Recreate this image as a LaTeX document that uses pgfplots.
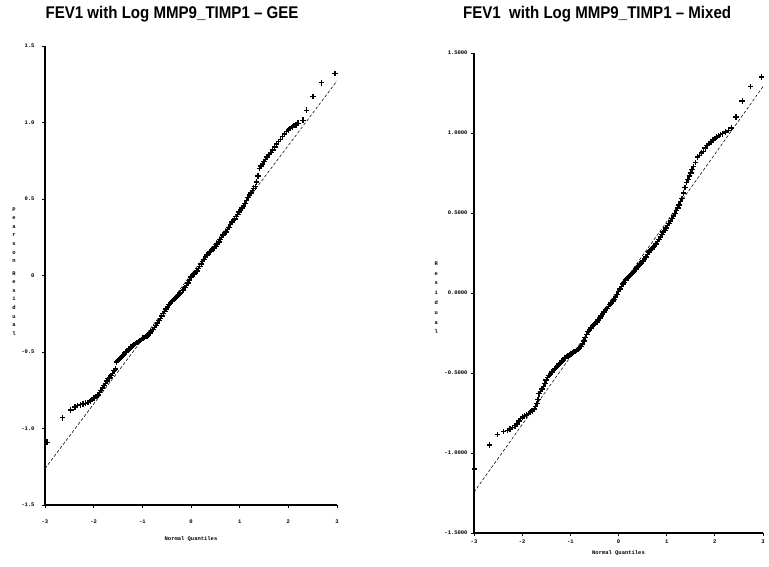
\documentclass[border=0pt]{standalone}
\usepackage{pgfplots}
\pgfplotsset{compat=1.18}
\usepackage{pgfplotstable}
\usepackage{fontspec}
\setmainfont{Liberation Sans}
\setmonofont{Liberation Mono}
\newcommand{\titlefont}{\fontsize{17}{20}\selectfont\bfseries\addfontfeature{FakeStretch=0.89}}
\newcommand{\tickfont}{\fontsize{5.5}{6.5}\selectfont\ttfamily\bfseries}
\newcommand{\stackfont}{\fontsize{5.5}{8.6}\selectfont\ttfamily\bfseries}

\pgfplotstableread{
q r
-2.96 -1.09
-2.64 -0.93
-2.47 -0.88
-2.38 -0.86
-2.33 -0.85
-2.27 -0.845
-2.22 -0.84
-2.17 -0.835
-2.12 -0.83
-2.07 -0.82
-2.03 -0.81
-1.99 -0.80
-1.95 -0.79
-1.91 -0.78
-1.88 -0.765
-1.85 -0.75
-1.82 -0.735
-1.79 -0.72
-1.76 -0.705
-1.73 -0.69
-1.70 -0.675
-1.67 -0.665
-1.64 -0.655
-1.61 -0.64
-1.58 -0.62
-1.55 -0.61
-1.53 -0.565
-1.50 -0.555
-1.47 -0.545
-1.44 -0.535
-1.41 -0.527
-1.38 -0.515
-1.35 -0.505
-1.32 -0.495
-1.29 -0.487
-1.26 -0.476
-1.23 -0.468
-1.20 -0.46
-1.17 -0.452
-1.14 -0.445
-1.11 -0.438
-1.08 -0.432
-1.05 -0.425
-1.02 -0.418
-0.99 -0.41
-0.96 -0.405
-0.93 -0.40
-0.90 -0.395
-0.87 -0.388
-0.84 -0.377
-0.81 -0.365
-0.78 -0.352
-0.75 -0.34
-0.72 -0.325
-0.69 -0.31
-0.66 -0.295
-0.63 -0.28
-0.60 -0.265
-0.57 -0.25
-0.54 -0.235
-0.51 -0.218
-0.48 -0.205
-0.45 -0.19
-0.42 -0.18
-0.39 -0.17
-0.36 -0.158
-0.33 -0.15
-0.30 -0.14
-0.27 -0.13
-0.24 -0.12
-0.21 -0.11
-0.18 -0.10
-0.15 -0.09
-0.12 -0.08
-0.09 -0.065
-0.06 -0.05
-0.03 -0.03
0.00 -0.01
0.03 0.00
0.06 0.01
0.09 0.02
0.12 0.03
0.15 0.045
0.18 0.06
0.21 0.075
0.24 0.09
0.27 0.105
0.30 0.12
0.33 0.135
0.36 0.145
0.39 0.155
0.42 0.165
0.45 0.175
0.48 0.18
0.51 0.19
0.54 0.205
0.57 0.22
0.60 0.235
0.63 0.25
0.66 0.265
0.69 0.275
0.72 0.285
0.75 0.30
0.78 0.315
0.81 0.335
0.84 0.35
0.87 0.36
0.90 0.37
0.93 0.385
0.96 0.40
0.99 0.415
1.02 0.43
1.05 0.44
1.08 0.455
1.11 0.47
1.14 0.49
1.17 0.51
1.20 0.525
1.23 0.54
1.26 0.555
1.29 0.57
1.32 0.58
1.35 0.61
1.38 0.65
1.41 0.70
1.44 0.715
1.47 0.73
1.50 0.745
1.53 0.76
1.56 0.775
1.60 0.79
1.64 0.805
1.68 0.82
1.72 0.84
1.76 0.86
1.80 0.875
1.84 0.89
1.88 0.91
1.92 0.925
1.96 0.94
2.00 0.95
2.04 0.96
2.08 0.97
2.12 0.98
2.16 0.985
2.20 0.995
2.30 1.015
2.37 1.08
2.51 1.17
2.68 1.26
2.96 1.32
}\geetable

\pgfplotstableread{
q r
-2.99 -1.10
-2.68 -0.95
-2.51 -0.885
-2.39 -0.865
-2.30 -0.86
-2.25 -0.85
-2.20 -0.84
-2.15 -0.83
-2.11 -0.82
-2.07 -0.80
-2.03 -0.785
-1.99 -0.775
-1.95 -0.768
-1.91 -0.762
-1.87 -0.752
-1.83 -0.745
-1.79 -0.737
-1.75 -0.725
-1.72 -0.71
-1.69 -0.69
-1.67 -0.665
-1.65 -0.63
-1.62 -0.615
-1.59 -0.60
-1.56 -0.585
-1.53 -0.565
-1.50 -0.545
-1.47 -0.527
-1.44 -0.515
-1.41 -0.505
-1.38 -0.495
-1.35 -0.485
-1.32 -0.473
-1.29 -0.462
-1.26 -0.452
-1.23 -0.443
-1.20 -0.435
-1.17 -0.425
-1.14 -0.415
-1.11 -0.405
-1.08 -0.398
-1.05 -0.392
-1.02 -0.386
-0.99 -0.38
-0.96 -0.375
-0.93 -0.37
-0.90 -0.365
-0.87 -0.36
-0.84 -0.353
-0.81 -0.345
-0.78 -0.335
-0.75 -0.32
-0.72 -0.30
-0.69 -0.28
-0.66 -0.26
-0.63 -0.242
-0.60 -0.23
-0.57 -0.218
-0.54 -0.208
-0.51 -0.198
-0.48 -0.19
-0.45 -0.182
-0.42 -0.17
-0.39 -0.157
-0.36 -0.145
-0.33 -0.133
-0.30 -0.12
-0.27 -0.108
-0.24 -0.097
-0.21 -0.085
-0.18 -0.073
-0.15 -0.062
-0.12 -0.05
-0.09 -0.04
-0.06 -0.025
-0.03 -0.01
0.00 0.01
0.03 0.025
0.06 0.04
0.09 0.055
0.12 0.067
0.15 0.08
0.18 0.09
0.21 0.10
0.24 0.11
0.27 0.117
0.30 0.127
0.33 0.138
0.36 0.15
0.39 0.16
0.42 0.17
0.45 0.18
0.48 0.19
0.51 0.20
0.54 0.213
0.57 0.225
0.60 0.24
0.63 0.255
0.66 0.265
0.69 0.275
0.72 0.285
0.75 0.295
0.78 0.305
0.81 0.32
0.84 0.335
0.87 0.35
0.90 0.365
0.93 0.38
0.96 0.392
0.99 0.405
1.02 0.42
1.05 0.435
1.08 0.45
1.11 0.465
1.14 0.48
1.17 0.497
1.20 0.515
1.23 0.53
1.26 0.55
1.29 0.57
1.32 0.59
1.35 0.625
1.38 0.66
1.41 0.69
1.44 0.71
1.47 0.73
1.50 0.75
1.53 0.77
1.56 0.79
1.60 0.815
1.64 0.85
1.68 0.86
1.72 0.875
1.76 0.885
1.80 0.905
1.84 0.92
1.88 0.935
1.92 0.945
1.96 0.955
2.00 0.965
2.04 0.975
2.08 0.985
2.12 0.99
2.16 0.995
2.22 1.005
2.28 1.015
2.34 1.03
2.44 1.10
2.57 1.20
2.74 1.29
2.97 1.35
}\mixedtable

\pgfplotsset{
  qqstyle/.style={
    scale only axis,
    anchor=south west,
    xmin=-3, xmax=3, ymin=-1.5, ymax=1.5,
    axis x line*=bottom, axis y line*=left,
    axis line style={line width=1.1bp, black},
    xtick={-3,-2,-1,0,1,2,3},
    xticklabels={-3,-2,-1,0,1,2,3},
    ytick={-1.5,-1,-0.5,0,0.5,1,1.5},
    tick align=outside,
    major tick length=3bp,
    tick style={black, line width=0.7bp},
    ticklabel style={font=\tickfont},
    xlabel={Normal Quantiles},
    xlabel style={font=\tickfont},
    ylabel style={font=\stackfont, rotate=-90, anchor=center, align=center},
    title style={font=\titlefont, anchor=center, yshift=-6pt},
    clip=false,
  },
  qqmarks/.style={only marks, mark=+, mark size=2.8bp, black, mark options={line width=1.4bp}},
  qqline/.style={black, line width=0.55bp, dash pattern=on 3bp off 2bp},
}

\begin{document}
\begin{tikzpicture}
\path[use as bounding box] (0,0) rectangle (769bp,567bp);

\begin{axis}[qqstyle,
  at={(45bp,62bp)}, width=292bp, height=459bp,
  yticklabels={-1.5,-1.0,-0.5,0,0.5,1.0,1.5},
  yticklabel style={xshift=-4bp},
  xticklabel style={yshift=-8bp},
  xlabel style={yshift=-6bp},
  ylabel={P\\e\\a\\r\\s\\o\\n\\[4bp]R\\e\\s\\i\\d\\u\\a\\l},
  ylabel style={at={(axis description cs:-0.106,0.509)}},
  title={FEV1 with Log MMP9\_TIMP1 -- GEE},
  title style={at={(axis description cs:0.435,1.0697)}},
]
\addplot[qqline] coordinates {(-3,-1.262) (3,1.272)};
\addplot[qqmarks] table[x=q, y=r] {\geetable};
\end{axis}

\begin{axis}[qqstyle,
  at={(474bp,34bp)}, width=289bp, height=480bp,
  yticklabels={-1.5000,-1.0000,-0.5000,0.0000,0.5000,1.0000,1.5000},
  ylabel={R\\e\\s\\i\\d\\u\\a\\l},
  ylabel style={at={(axis description cs:-0.131,0.49)}, font=\fontsize{5.5}{9.8}\selectfont\ttfamily\bfseries},
  title={FEV1\ \ with Log MMP9\_TIMP1 -- Mixed},
  title style={at={(axis description cs:0.426,1.081)}},
]
\addplot[qqline] coordinates {(-3,-1.245) (3,1.29)};
\addplot[qqmarks] table[x=q, y=r] {\mixedtable};
\end{axis}
\end{tikzpicture}
\end{document}
